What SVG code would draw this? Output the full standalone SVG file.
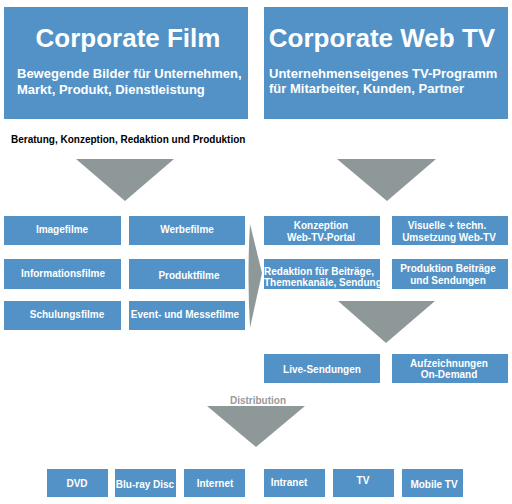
<svg xmlns="http://www.w3.org/2000/svg" width="512" height="504" viewBox="0 0 512 504">
<style>
.box{fill:#5292c6}
.tri{fill:#8f9898}
text{font-family:"Liberation Sans",Arial,sans-serif;font-weight:bold}
.t{fill:#fff;font-size:10px;text-anchor:middle}
.h{fill:#fff;font-size:26px;text-anchor:middle}
.s{fill:#fff;font-size:13px}
</style>
<rect width="512" height="504" fill="#fff"/>
<g id="corporate-film">
<rect class="box" x="4" y="7" width="244" height="112"/>
<text class="h" x="128" y="47">Corporate Film</text>
<text class="s" x="17" y="78">Bewegende Bilder für Unternehmen,</text>
<text class="s" x="17" y="94">Markt, Produkt, Dienstleistung</text>
</g>
<g id="corporate-web-tv">
<rect class="box" x="264" y="7" width="244" height="112"/>
<text class="h" x="382" y="47">Corporate Web TV</text>
<text class="s" x="269" y="78">Unternehmenseigenes TV-Programm</text>
<text class="s" x="269" y="93">für Mitarbeiter, Kunden, Partner</text>
</g>
<text x="11" y="143" font-size="10" fill="#000">Beratung, Konzeption, Redaktion und Produktion</text>
<g id="connectors">
<polygon class="tri" points="76,159 174,159 125,201"/>
<polygon class="tri" points="337,159 436,159 387,201"/>
<path class="tri" d="M250,224 L262,273 L250,328 Q247,276 250,224 Z"/>
<polygon class="tri" points="338,301 435,301 386,343"/>
<polygon class="tri" points="207,406 305,406 256,447"/>
</g>
<g id="imagefilme"><rect class="box" x="4" y="216" width="117" height="29"/><text class="t" x="62" y="233">Imagefilme</text></g>
<g id="werbefilme"><rect class="box" x="129" y="216" width="116" height="29"/><text class="t" x="187" y="233">Werbefilme</text></g>
<g id="informationsfilme"><rect class="box" x="4" y="259" width="117" height="30"/><text class="t" x="63" y="277">Informationsfilme</text></g>
<g id="produktfilme"><rect class="box" x="129" y="259" width="116" height="30"/><text class="t" x="189" y="279">Produktfilme</text></g>
<g id="schulungsfilme"><rect class="box" x="4" y="301" width="117" height="29"/><text class="t" x="67" y="318">Schulungsfilme</text></g>
<g id="event-messefilme"><rect class="box" x="129" y="301" width="116" height="29"/><text class="t" x="185" y="318">Event- und Messefilme</text></g>
<g id="konzeption"><rect class="box" x="264" y="216" width="116" height="29"/><text class="t" x="321" y="229">Konzeption</text><text class="t" x="321" y="241">Web-TV-Portal</text></g>
<g id="umsetzung"><rect class="box" x="392" y="216" width="116" height="29"/><text class="t" x="447" y="229">Visuelle + techn.</text><text class="t" x="449" y="241">Umsetzung Web-TV</text></g>
<g id="redaktion"><rect class="box" x="264" y="259" width="116" height="30"/><text class="t" x="264" y="275" style="text-anchor:start">Redaktion für Beiträge,</text><text class="t" x="264" y="286" style="text-anchor:start">Themenkanäle, Sendung</text></g>
<g id="produktion"><rect class="box" x="392" y="259" width="116" height="30"/><text class="t" x="448" y="272">Produktion Beiträge</text><text class="t" x="448" y="284">und Sendungen</text></g>
<g id="live"><rect class="box" x="264" y="354" width="116" height="29"/><text class="t" x="322" y="373">Live-Sendungen</text></g>
<g id="aufzeichnungen"><rect class="box" x="392" y="354" width="116" height="29"/><text class="t" x="449" y="367">Aufzeichnungen</text><text class="t" x="449" y="378">On-Demand</text></g>
<text x="258" y="404" font-size="10" fill="#9a9a9a" text-anchor="middle">Distribution</text>
<g id="dvd"><rect class="box" x="47" y="469" width="61" height="28"/><text class="t" x="77" y="487">DVD</text></g>
<g id="bluray"><rect class="box" x="115" y="469" width="61" height="28"/><text class="t" x="145" y="488">Blu-ray Disc</text></g>
<g id="internet"><rect class="box" x="184" y="469" width="61" height="28"/><text class="t" x="215" y="487">Internet</text></g>
<g id="intranet"><rect class="box" x="264" y="469" width="61" height="28"/><text class="t" x="289" y="486">Intranet</text></g>
<g id="tv"><rect class="box" x="333" y="469" width="61" height="28"/><text class="t" x="363" y="484">TV</text></g>
<g id="mobile-tv"><rect class="box" x="402" y="469" width="61" height="28"/><text class="t" x="434" y="488">Mobile TV</text></g>
</svg>
